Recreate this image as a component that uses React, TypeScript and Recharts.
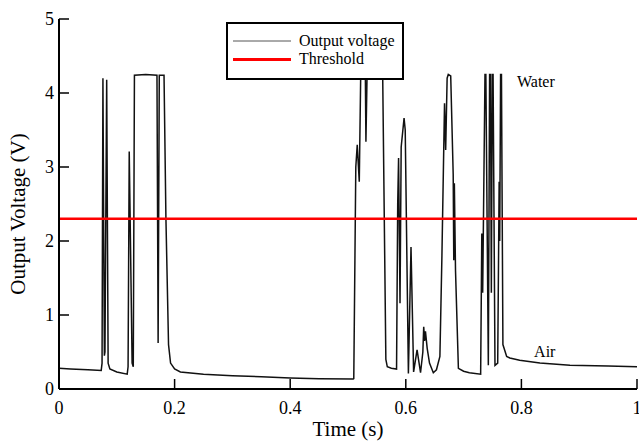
import React from 'react';
import { LineChart, Line, XAxis, YAxis, Legend, ReferenceDot } from 'recharts';

// Time (s)
const timeS = [
  0, 0.02, 0.05, 0.073, 0.0745, 0.076, 0.0785, 0.0795, 0.0825, 0.085, 0.088, 0.1, 0.118,
  0.1195, 0.1215, 0.1265, 0.1285, 0.1305, 0.15, 0.1695, 0.1715, 0.1735, 0.1817, 0.185,
  0.1895, 0.193, 0.2, 0.21, 0.25, 0.3, 0.35, 0.4, 0.45, 0.509,
  0.51, 0.5135, 0.516, 0.5195, 0.522, 0.53, 0.531, 0.533, 0.56, 0.5655, 0.568, 0.575, 0.584,
  0.586, 0.5875, 0.59, 0.592, 0.597, 0.599, 0.6045, 0.609, 0.6135, 0.6195, 0.6255,
  0.6295, 0.631, 0.6325, 0.634, 0.637, 0.641, 0.6476, 0.653, 0.659, 0.6625, 0.667, 0.669,
  0.6715, 0.6735, 0.6777, 0.682, 0.683, 0.684, 0.686, 0.691, 0.7, 0.71, 0.7295,
  0.7315, 0.733, 0.7345, 0.737, 0.7385, 0.7428, 0.745, 0.7465, 0.748, 0.7497, 0.751, 0.7543,
  0.759, 0.7605, 0.7615, 0.7625, 0.764, 0.7655, 0.768, 0.7745, 0.78, 0.797, 0.832, 0.884,
  0.95, 1.0,
];

// Output voltage (V)
const outputV = [
  0.28, 0.27, 0.26, 0.25, 0.35, 4.2, 0.45, 0.5, 4.18, 0.35, 0.27, 0.23, 0.2,
  0.3, 3.21, 0.35, 0.3, 4.24, 4.25, 4.24, 0.62, 4.24, 4.24, 2.3,
  0.6, 0.35, 0.27, 0.23, 0.2, 0.18, 0.165, 0.15, 0.14, 0.135,
  0.14, 3.0, 3.3, 2.8, 4.25, 4.25, 3.34, 4.25, 4.25, 0.4, 0.3, 0.28, 0.27,
  2.5, 3.12, 1.16, 3.27, 3.66, 3.5, 0.21, 1.92, 0.23, 0.53, 0.22,
  0.5, 0.84, 0.65, 0.78, 0.55, 0.35, 0.22, 0.26, 0.44, 1.8, 3.86, 3.23,
  4.2, 4.25, 4.23, 2.9, 1.74, 2.78, 1.6, 0.28, 0.24, 0.22, 0.2,
  2.1, 1.3, 2.4, 4.25, 4.25, 0.32, 4.25, 4.25, 1.3, 4.25, 4.25, 0.32,
  0.35, 1.8, 2.8, 2.0, 4.25, 4.25, 0.6, 0.44, 0.42, 0.39, 0.35, 0.32,
  0.31, 0.3,
];

const thresholdV = 2.3;
const xTicks = [0, 0.2, 0.4, 0.6, 0.8, 1];
const xTickLabels = ['0', '0.2', '0.4', '0.6', '0.8', '1'];
const yTicks = [0, 1, 2, 3, 4, 5];
const seriesNames = ['Output voltage', 'Threshold'];
const waterLabel = { t: 0.7924, v: 4.08, text: 'Water' };
const airLabel = { t: 0.822, v: 0.43, text: 'Air' };

const data = timeS.map((t, i) => ({ t, v: outputV[i], th: thresholdV }));

const FONT = "'Liberation Serif', 'Times New Roman', serif";
const TICK_LEN = 10;
const serifStyle = (size: number): React.CSSProperties => ({ fontFamily: FONT, fontSize: size });

const BottomTick = (props: any) => {
  const { x, y, payload } = props;
  const idx = xTicks.indexOf(payload.value);
  const label = idx >= 0 ? xTickLabels[idx] : String(payload.value);
  return (
    <g>
      <line x1={x} y1={y} x2={x} y2={y - TICK_LEN} stroke="#000" strokeWidth={1.5} />
      <text x={x} y={y + 25} textAnchor="middle" style={serifStyle(18)} fill="#000">
        {label}
      </text>
    </g>
  );
};

const TopTick = (props: any) => {
  const { x, y } = props;
  return <line x1={x} y1={y} x2={x} y2={y + TICK_LEN} stroke="#000" strokeWidth={1.5} />;
};

const LeftTick = (props: any) => {
  const { x, y, payload } = props;
  return (
    <g>
      <line x1={x} y1={y} x2={x + TICK_LEN} y2={y} stroke="#000" strokeWidth={1.5} />
      <text x={x - 5} y={y + 6} textAnchor="end" style={serifStyle(18)} fill="#000">
        {String(payload.value)}
      </text>
    </g>
  );
};

const RightTick = (props: any) => {
  const { x, y } = props;
  return <line x1={x} y1={y} x2={x - TICK_LEN} y2={y} stroke="#000" strokeWidth={1.5} />;
};

const XLabel = (props: any) => {
  const vb = props.viewBox || { x: 59, y: 389, width: 578, height: 52 };
  return (
    <text x={vb.x + vb.width / 2} y={vb.y + 47} textAnchor="middle" style={serifStyle(21)} fill="#000">
      Time (s)
    </text>
  );
};

const YLabel = (props: any) => {
  const vb = props.viewBox || { x: 0, y: 19, width: 59, height: 370 };
  const cx = vb.x + 25;
  const cy = vb.y + vb.height / 2 + 10;
  return (
    <text x={cx} y={cy} textAnchor="middle" transform={`rotate(-90 ${cx} ${cy})`} style={serifStyle(21)} fill="#000">
      Output Voltage (V)
    </text>
  );
};

const AnnoLabel = (props: any) => {
  const vb = props.viewBox || { x: 0, y: 0 };
  return (
    <text x={vb.x} y={vb.y} textAnchor="start" style={serifStyle(16)} fill="#000">
      {props.text}
    </text>
  );
};

const LegendBox = (props: any) => {
  const payload = props.payload || [];
  return (
    <svg width={178} height={58} style={{ display: 'block' }}>
      <rect x={1} y={1} width={176} height={56} fill="#fff" stroke="#000" strokeWidth={2} />
      {payload.map((p: any, i: number) => (
        <g key={i}>
          <line
            x1={7}
            x2={65}
            y1={19 + i * 18.5}
            y2={19 + i * 18.5}
            stroke={i === 0 ? '#555' : p.color}
            strokeWidth={i === 0 ? 1 : 3}
          />
          <text x={73} y={24 + i * 18} style={serifStyle(16)} fill="#000">
            {p.value}
          </text>
        </g>
      ))}
    </svg>
  );
};

export default function App() {
  return (
    <div style={{ position: 'absolute', left: 0, top: 0, width: 639, height: 441, background: '#fff' }}>
      <LineChart width={639} height={441} data={data} margin={{ top: 19, right: 2, bottom: 0, left: 0 }}>
        <XAxis
          xAxisId="bottom"
          type="number"
          dataKey="t"
          domain={[0, 1]}
          ticks={xTicks}
          interval={0}
          height={52}
          tickSize={0}
          tickMargin={0}
          tickLine={false}
          axisLine={{ stroke: '#000', strokeWidth: 2 }}
          tick={<BottomTick />}
          label={<XLabel />}
        />
        <XAxis
          xAxisId="top"
          orientation="top"
          type="number"
          dataKey="t"
          domain={[0, 1]}
          ticks={xTicks}
          interval={0}
          height={0}
          tickSize={0}
          tickMargin={0}
          tickLine={false}
          axisLine={{ stroke: '#000', strokeWidth: 2 }}
          tick={<TopTick />}
        />
        <YAxis
          yAxisId="left"
          type="number"
          domain={[0, 5]}
          ticks={yTicks}
          interval={0}
          width={59}
          tickSize={0}
          tickMargin={0}
          tickLine={false}
          axisLine={{ stroke: '#000', strokeWidth: 2 }}
          tick={<LeftTick />}
          label={<YLabel />}
        />
        <YAxis
          yAxisId="right"
          orientation="right"
          type="number"
          domain={[0, 5]}
          ticks={yTicks}
          interval={0}
          width={0}
          tickSize={0}
          tickMargin={0}
          tickLine={false}
          axisLine={{ stroke: '#000', strokeWidth: 2 }}
          tick={<RightTick />}
        />
        <Line
          xAxisId="bottom"
          yAxisId="left"
          type="linear"
          dataKey="v"
          name={seriesNames[0]}
          stroke="#111"
          strokeWidth={1.5}
          dot={false}
          activeDot={false}
          isAnimationActive={false}
        />
        <Line
          xAxisId="bottom"
          yAxisId="left"
          type="linear"
          dataKey="th"
          name={seriesNames[1]}
          stroke="#ff0000"
          strokeWidth={2.5}
          dot={false}
          activeDot={false}
          isAnimationActive={false}
        />
        <ReferenceDot
          xAxisId="bottom"
          yAxisId="left"
          x={waterLabel.t}
          y={waterLabel.v}
          r={0}
          fill="none"
          stroke="none"
          label={<AnnoLabel text={waterLabel.text} />}
        />
        <ReferenceDot
          xAxisId="bottom"
          yAxisId="left"
          x={airLabel.t}
          y={airLabel.v}
          r={0}
          fill="none"
          stroke="none"
          label={<AnnoLabel text={airLabel.text} />}
        />
        <Legend
          layout="vertical"
          align="center"
          verticalAlign="middle"
          content={<LegendBox />}
          wrapperStyle={{ position: 'absolute', left: 226, top: 22, width: 178, height: 58, margin: 0, padding: 0 }}
        />
      </LineChart>
    </div>
  );
}
